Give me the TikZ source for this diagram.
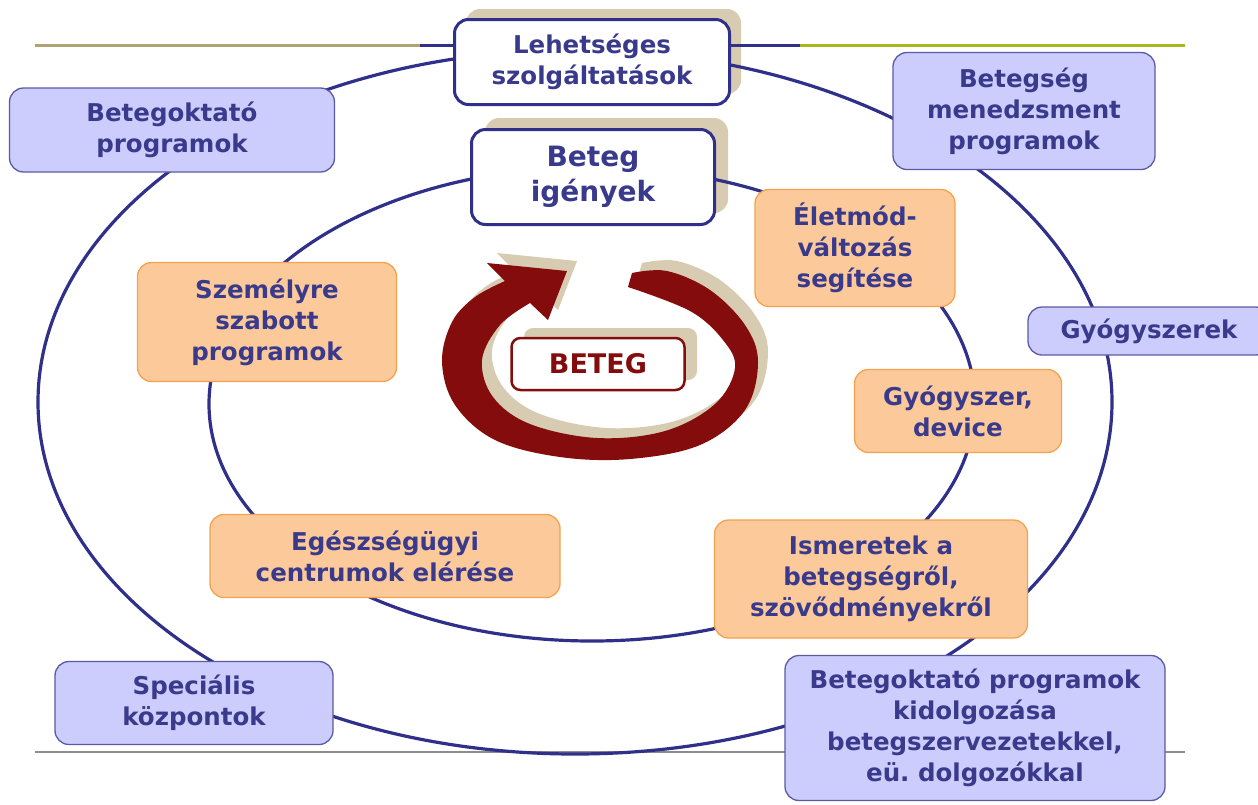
\documentclass[tikz,border=0pt]{standalone}
\usepackage{fontspec}
\setmainfont{DejaVu Sans}
\frenchspacing
\definecolor{navy}{HTML}{30308A}
\definecolor{txt}{HTML}{3A3A8C}
\definecolor{lav}{HTML}{CCCCFD}
\definecolor{lavb}{HTML}{5A5AA6}
\definecolor{peach}{HTML}{FCCA9A}
\definecolor{peachb}{HTML}{F4A24E}
\definecolor{tanc}{HTML}{D7CCB2}
\definecolor{dred}{HTML}{850C0C}
\definecolor{khaki}{HTML}{B2A274}
\definecolor{ygreen}{HTML}{A6B81E}
\definecolor{lgray}{HTML}{8C8C8C}
\tikzset{
  box/.style={rounded corners=14pt, align=center, inner sep=0pt,
    font=\fontsize{24.5}{31}\selectfont\bfseries, text=txt},
  lavbox/.style={box, fill=lav, draw=lavb, line width=1.3pt},
  orbox/.style={box, fill=peach, draw=peachb, line width=1.3pt},
  wbox/.style={box, fill=white, draw=navy, line width=3pt},
  shade/.style={fill=tanc, rounded corners=14pt},
  ring/.style={draw=navy, line width=3.2pt},
}
\newcommand{\cyclearrow}{%
  plot[smooth, tension=0.6] coordinates {(632,273) (667,271) (710,290) (745,325) (758,362) (745,410) (700,445) (630,459) (560,457) (495,440) (455,405) (442,362) (452,322) (475,297) (505,281)}
  -- (487,263) -- (567,271) -- (548,320) -- (530,303)
  -- plot[smooth, tension=0.6] coordinates {(530,303) (500,325) (482,360) (493,397) (530,424) (597,438) (665,431) (715,404) (735,368) (723,340) (690,311) (628,287)}
  -- cycle}
\begin{document}
\begin{tikzpicture}[x=1pt,y=-1pt]
\useasboundingbox[fill=white] (0,0) rectangle (1258,804);
% shadows of white boxes
\fill[shade] (466,9) rectangle (741,94);
\fill[shade] (485,118) rectangle (728,213);
% horizontal rules
\coordinate (tl) at (35,45);
\coordinate (tm) at (420,45);
\coordinate (trm) at (800,45);
\coordinate (tr) at (1185,45);
\coordinate (bl) at (35,752);
\coordinate (br) at (1185,752);
\draw[lgray, line width=2pt] (bl) -- (br);
\draw[khaki, line width=3pt] (tl) -- (tm);
\draw[ygreen, line width=3pt] (trm) -- (tr);
\draw[navy, line width=3pt] (tm) -- (trm);
% ellipses
\draw[ring] (575,402) ellipse [x radius=537, y radius=352];
\draw[ring] (592,404) ellipse [x radius=383, y radius=237];
% circular arrow
\fill[tanc, shift={(10,-10)}] \cyclearrow;
\fill[dred] \cyclearrow;
% BETEG box
\fill[shade, rounded corners=9pt] (524,328) rectangle (697,380);
\node[box, rounded corners=9pt, fill=white, draw=dred, line width=2.5pt, text=dred,
      font=\fontsize{27}{31}\selectfont\bfseries,
      minimum width=173pt, minimum height=52pt] (beteg) at (598,364) {BETEG};
% white boxes
\node[wbox, minimum width=275pt, minimum height=85pt] (lehet) at (592,62) {Lehetséges\\szolgáltatások};
\node[wbox, font=\fontsize{28}{35}\selectfont\bfseries, minimum width=243pt, minimum height=95pt] (igeny) at (593,177) {Beteg\\igények};
% lavender boxes
\node[lavbox, minimum width=325pt, minimum height=84pt] (betokt) at (172,130) {Betegoktató\\programok};
\node[lavbox, minimum width=262pt, minimum height=117pt] (menedzs) at (1024,111) {Betegség\\menedzsment\\programok};
\node[lavbox, minimum width=242pt, minimum height=48pt] (gyogysz) at (1149,331) {Gyógyszerek};
\node[lavbox, minimum width=278pt, minimum height=83pt] (special) at (194,703) {Speciális\\központok};
\node[lavbox, minimum width=380pt, minimum height=145pt] (kidolg) at (975,728) {Betegoktató programok\\kidolgozása\\betegszervezetekkel,\\eü. dolgozókkal};
% orange boxes
\node[orbox, minimum width=259pt, minimum height=119pt] (szemely) at (267,322) {Személyre\\szabott\\programok};
\node[orbox, minimum width=200pt, minimum height=117pt] (eletmod) at (855,248) {Életmód-\\változás\\segítése};
\node[orbox, minimum width=207pt, minimum height=83pt] (gydev) at (958,411) {Gyógyszer,\\device};
\node[orbox, minimum width=350pt, minimum height=83pt] (egesz) at (385,556) {Egészségügyi\\centrumok elérése};
\node[orbox, minimum width=313pt, minimum height=118pt] (ismeret) at (871,579) {Ismeretek a\\betegségről,\\szövődményekről};
\end{tikzpicture}
\end{document}
